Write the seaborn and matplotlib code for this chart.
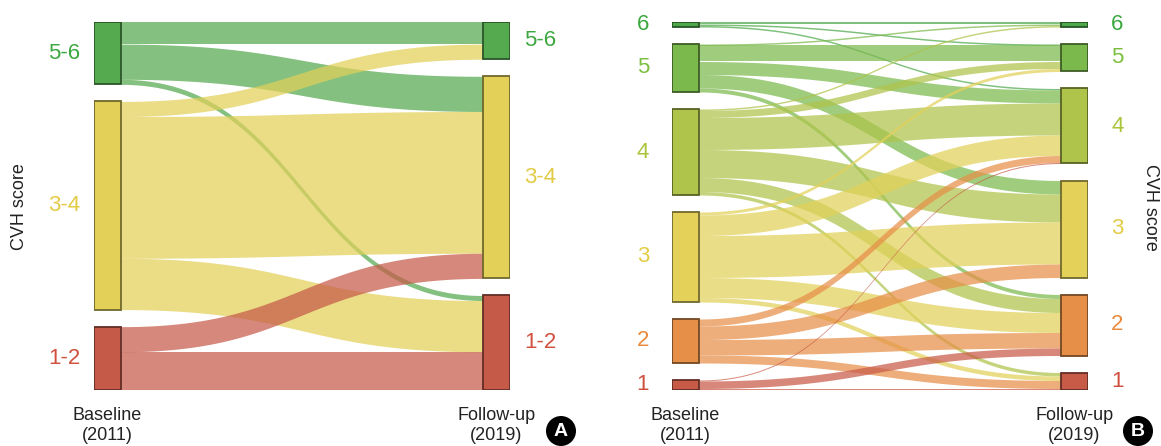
import numpy as np
import matplotlib
matplotlib.use("Agg")
import matplotlib.pyplot as plt
import matplotlib.colors as mcolors
from matplotlib.patches import Ellipse
import seaborn as sns

# ---- Panel A: grouped CVH score (3 groups) ----
groups_a = ["5-6", "3-4", "1-2"]
# flow sizes from each baseline group to follow-up groups (5-6, 3-4, 1-2)
from_a_56 = [22, 35, 5]
from_a_34 = [15, 141, 51]
from_a_12 = [0, 25, 38]
colors_a = ["#55a94f", "#e2d058", "#c65a48"]
label_colors_a = ["#3ca83f", "#e3cb45", "#d1513f"]

# ---- Panel B: CVH score 6..1 ----
scores_b = ["6", "5", "4", "3", "2", "1"]
# flow sizes from each baseline score to follow-up scores (6, 5, 4, 3, 2, 1)
from_b_6 = [2, 1.5, 1.5, 0, 0, 0]
from_b_5 = [1.5, 16, 13, 13.5, 4, 0]
from_b_4 = [1.5, 7, 32, 28, 14, 3.5]
from_b_3 = [0, 3, 20.5, 42, 20, 4.5]
from_b_2 = [0, 0, 7, 13.5, 15.5, 8]
from_b_1 = [0, 0, 1, 0, 7.5, 1.5]
colors_b = ["#4ea84b", "#7bb94d", "#afc44a", "#e3d15a", "#e68f48", "#c85b48"]
label_colors_b = ["#3aa83e", "#7cbf40", "#a9c43a", "#e3cc45", "#ea8a3c", "#cf4f3f"]

FIG_W, FIG_H = 1161, 446
GAP = 17          # vertical gap between nodes (data units)
NODE_PX = 27      # node width in pixels
SPAN_PX = 416     # left edge of left nodes to right edge of right nodes
TOP_PX, BOT_PX = 22, 390

sns.set_theme(style="white")
plt.rcParams["font.family"] = ["Liberation Sans", "DejaVu Sans"]

fig = plt.figure(figsize=(FIG_W / 100, FIG_H / 100), dpi=100)
fig.patch.set_facecolor("white")


def darker(c, f=0.5):
    r, g, b = mcolors.to_rgb(c)
    return (r * f, g * f, b * f)


def ribbon(ax, x0, x1, t0, b0, t1, b1, color, alpha):
    s = np.linspace(0, 1, 300)
    xs = 1.5 * s * (1 - s) + s ** 3
    ys = 3 * s ** 2 - 2 * s ** 3
    x = x0 + (x1 - x0) * xs
    top = t0 + (t1 - t0) * ys
    bot = b0 + (b1 - b0) * ys
    ax.fill_between(x, top, bot, color=color, alpha=alpha, lw=0)


def sankey(ax, labels, matrix, colors, label_colors, label_gap_px):
    m = np.array(matrix, dtype=float)
    n = len(labels)
    out_tot = m.sum(axis=1)
    in_tot = m.sum(axis=0)
    span = max(out_tot.sum(), in_tot.sum()) + GAP * (n - 1)
    w = NODE_PX / SPAN_PX

    left_top = np.concatenate([[0], np.cumsum(out_tot + GAP)[:-1]])
    right_top = np.concatenate([[0], np.cumsum(in_tot + GAP)[:-1]])

    # ribbons: outflows stacked by target, inflows stacked by source
    out_cursor = left_top.copy()
    for i in range(n):
        for j in range(n):
            v = m[i, j]
            if v <= 0:
                continue
            t0, b0 = out_cursor[i], out_cursor[i] + v
            t1 = right_top[j] + m[:i, j].sum()
            ribbon(ax, w, 1 - w, t0, b0, t1, t1 + v, colors[i], 0.72)
            out_cursor[i] += v

    # nodes and their labels
    for i in range(n):
        ax.bar(0, out_tot[i], bottom=left_top[i], width=w, align="edge",
               color=colors[i], edgecolor=darker(colors[i]), linewidth=1.3, zorder=3)
        ax.bar(1 - w, in_tot[i], bottom=right_top[i], width=w, align="edge",
               color=colors[i], edgecolor=darker(colors[i]), linewidth=1.3, zorder=3)
        ax.annotate(labels[i], xy=(0, left_top[i] + out_tot[i] / 2),
                    xytext=(-label_gap_px, 0), textcoords="offset pixels",
                    ha="right", va="center", fontsize=16, color=label_colors[i])
        ax.annotate(labels[i], xy=(1, right_top[i] + in_tot[i] / 2),
                    xytext=(label_gap_px, 0), textcoords="offset pixels",
                    ha="left", va="center", fontsize=16, color=label_colors[i])

    ax.set_xlim(0, 1)
    ax.set_ylim(span, 0)
    ax.axis("off")

    # column captions
    for xc, (l1, l2) in [(w / 2, ("Baseline", "(2011)")),
                         (1 - w / 2, ("Follow-up", "(2019)"))]:
        ax.annotate(l1, xy=(xc, span), xytext=(0, -25), textcoords="offset pixels",
                    ha="center", va="center", fontsize=13, color="#222222",
                    annotation_clip=False)
        ax.annotate(l2, xy=(xc, span), xytext=(0, -46), textcoords="offset pixels",
                    ha="center", va="center", fontsize=13, color="#222222",
                    annotation_clip=False)


def add_axes_px(x0_px):
    return fig.add_axes([x0_px / FIG_W, (FIG_H - BOT_PX) / FIG_H,
                         SPAN_PX / FIG_W, (BOT_PX - TOP_PX) / FIG_H])


ax_a = add_axes_px(94)
sankey(ax_a, groups_a, [from_a_56, from_a_34, from_a_12], colors_a,
       label_colors_a, 14)
ax_b = add_axes_px(672)
sankey(ax_b, scores_b, [from_b_6, from_b_5, from_b_4, from_b_3, from_b_2, from_b_1],
       colors_b, label_colors_b, 23)

# axis titles
fig.text(20 / FIG_W, 1 - 207 / FIG_H, "CVH score", rotation=90, ha="center",
         va="center", fontsize=13, color="#222222")
fig.text(1150 / FIG_W, 1 - 207 / FIG_H, "CVH score", rotation=270, ha="center",
         va="center", fontsize=13, color="#222222")

# panel badges
for cx, letter in [(561, "A"), (1138, "B")]:
    fig.add_artist(Ellipse((cx / FIG_W, 1 - 431 / FIG_H), 30 / FIG_W, 30 / FIG_H,
                           transform=fig.transFigure, facecolor="black",
                           edgecolor="none"))
    fig.text(cx / FIG_W, 1 - 431 / FIG_H, letter, ha="center", va="center",
             fontsize=14, fontweight="bold", color="white")

fig.savefig("out.png", dpi=100, facecolor="white")
